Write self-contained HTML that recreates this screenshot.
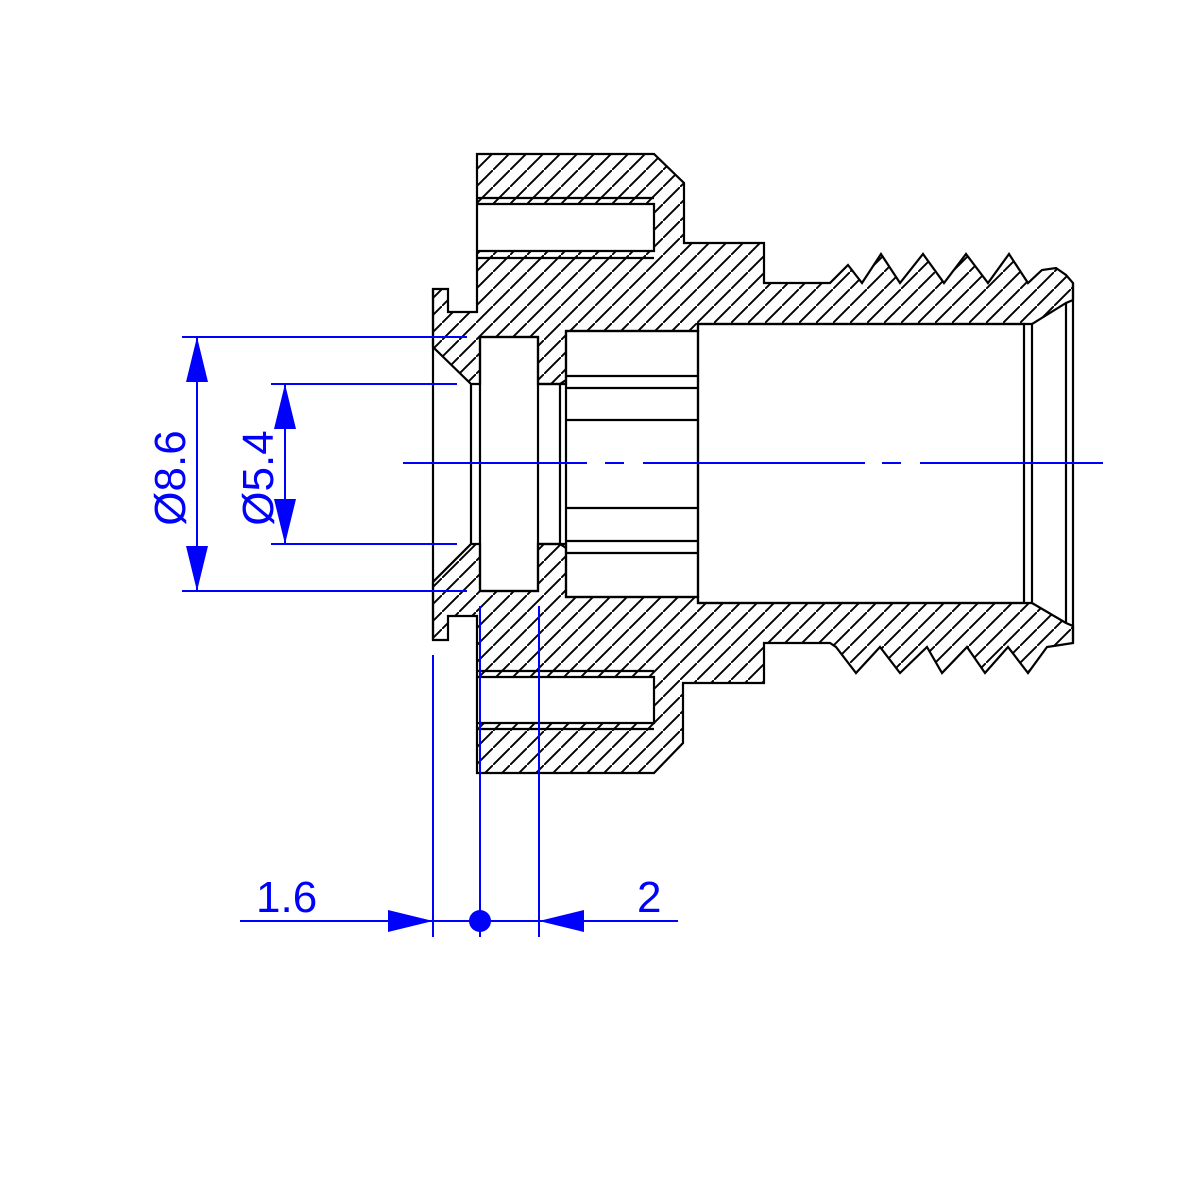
<!DOCTYPE html>
<html><head><meta charset="utf-8"><style>html,body{margin:0;padding:0;background:#fff}svg{display:block}</style></head>
<body>
<svg width="1181" height="1181" viewBox="0 0 1181 1181" xmlns="http://www.w3.org/2000/svg">
<defs>
<pattern id="h" patternUnits="userSpaceOnUse" width="17" height="17">
<line x1="-2" y1="19" x2="19" y2="-2" stroke="#000" stroke-width="1.9"/>
</pattern>
</defs>
<rect width="1181" height="1181" fill="#fff"/>
<g stroke="#000" stroke-width="2.2" stroke-linejoin="miter">
<path fill="url(#h)" fill-rule="evenodd" d="M433,289 L448,289 L448,312 L477,312 L477,154 L654,154 L684,183 L684,243 L764,243 L764,283 L830,283 L848,265 L862,283 L881,254 L900,283 L923,254 L944,283 L966,254 L988,283 L1009,254 L1028,283 L1042,270 L1056,268 L1066,275 L1073,283 L1073,300 L1066,303 L1032,324 L698,324 L698,331 L566,331 L566,384 L538,384 L538,337 L480,337 L480,384 L471,384 L433,347 Z M477,204 L654,204 L654,251 L477,251 Z"/>
<path fill="url(#h)" fill-rule="evenodd" d="M433,640 L448,640 L448,616 L477,616 L477,773 L654,773 L683,743 L683,683 L764,683 L764,643 L830,643 L836,647 L856,673 L880,647 L900,673 L927,647 L942,673 L967,647 L985,673 L1008,647 L1028,673 L1047,647 L1073,643 L1073,626 L1066,623 L1032,603 L698,603 L698,597 L566,597 L566,544 L538,544 L538,591 L480,591 L480,544 L471,544 L433,582 Z M477,677 L654,677 L654,723 L477,723 Z"/>
<g fill="none">
<line x1="477" y1="198" x2="654" y2="198"/>
<line x1="477" y1="258" x2="654" y2="258"/>
<line x1="477" y1="671" x2="654" y2="671"/>
<line x1="477" y1="729" x2="654" y2="729"/>
<line x1="433" y1="289" x2="433" y2="640"/>
<line x1="471" y1="384" x2="471" y2="544"/>
<rect x="480" y="337" width="58" height="254"/>
<line x1="538" y1="384" x2="560" y2="384"/>
<line x1="538" y1="544" x2="560" y2="544"/>
<line x1="560" y1="384" x2="560" y2="544"/>
<line x1="560" y1="384" x2="566" y2="380"/>
<line x1="560" y1="544" x2="566" y2="548"/>
<rect x="566" y="331" width="132" height="266"/>
<line x1="566" y1="376" x2="698" y2="376"/>
<line x1="566" y1="388" x2="698" y2="388"/>
<line x1="566" y1="420" x2="698" y2="420"/>
<line x1="566" y1="508" x2="698" y2="508"/>
<line x1="566" y1="541" x2="698" y2="541"/>
<line x1="566" y1="553" x2="698" y2="553"/>
<rect x="698" y="324" width="326" height="279"/>
<line x1="1032" y1="324" x2="1032" y2="603"/>
<line x1="1066" y1="303" x2="1066" y2="623"/>
<line x1="1073" y1="283" x2="1073" y2="643"/>
</g>
</g>
<g stroke="#0000ff" stroke-width="2" fill="none">
<line x1="403" y1="463" x2="587" y2="463"/>
<line x1="605" y1="463" x2="624" y2="463"/>
<line x1="643" y1="463" x2="865" y2="463"/>
<line x1="882" y1="463" x2="901" y2="463"/>
<line x1="920" y1="463" x2="1103" y2="463"/>
<line x1="182" y1="337" x2="467" y2="337"/>
<line x1="182" y1="591" x2="467" y2="591"/>
<line x1="197" y1="337" x2="197" y2="591"/>
<line x1="271" y1="384" x2="457" y2="384"/>
<line x1="271" y1="544" x2="457" y2="544"/>
<line x1="285" y1="384" x2="285" y2="544"/>
<line x1="433" y1="655" x2="433" y2="937"/>
<line x1="480" y1="606" x2="480" y2="937"/>
<line x1="539" y1="606" x2="539" y2="937"/>
<line x1="240" y1="921" x2="678" y2="921"/>
</g>
<g fill="#0000ff">
<polygon points="197,337 186,382 208,382"/>
<polygon points="197,591 186,546 208,546"/>
<polygon points="285,384 274,429 296,429"/>
<polygon points="285,544 274,499 296,499"/>
<polygon points="433,921 388,910 388,932"/>
<polygon points="539,921 584,910 584,932"/>
<circle cx="480" cy="921" r="11"/>
</g>
<g fill="#0000ff" font-family="'Liberation Sans', sans-serif" font-size="44">
<text x="185" y="478" text-anchor="middle" transform="rotate(-90 185 478)">Ø8.6</text>
<text x="273" y="478" text-anchor="middle" transform="rotate(-90 273 478)">Ø5.4</text>
<text x="256" y="912">1.6</text>
<text x="637" y="912">2</text>
</g>
</svg>
</body></html>
